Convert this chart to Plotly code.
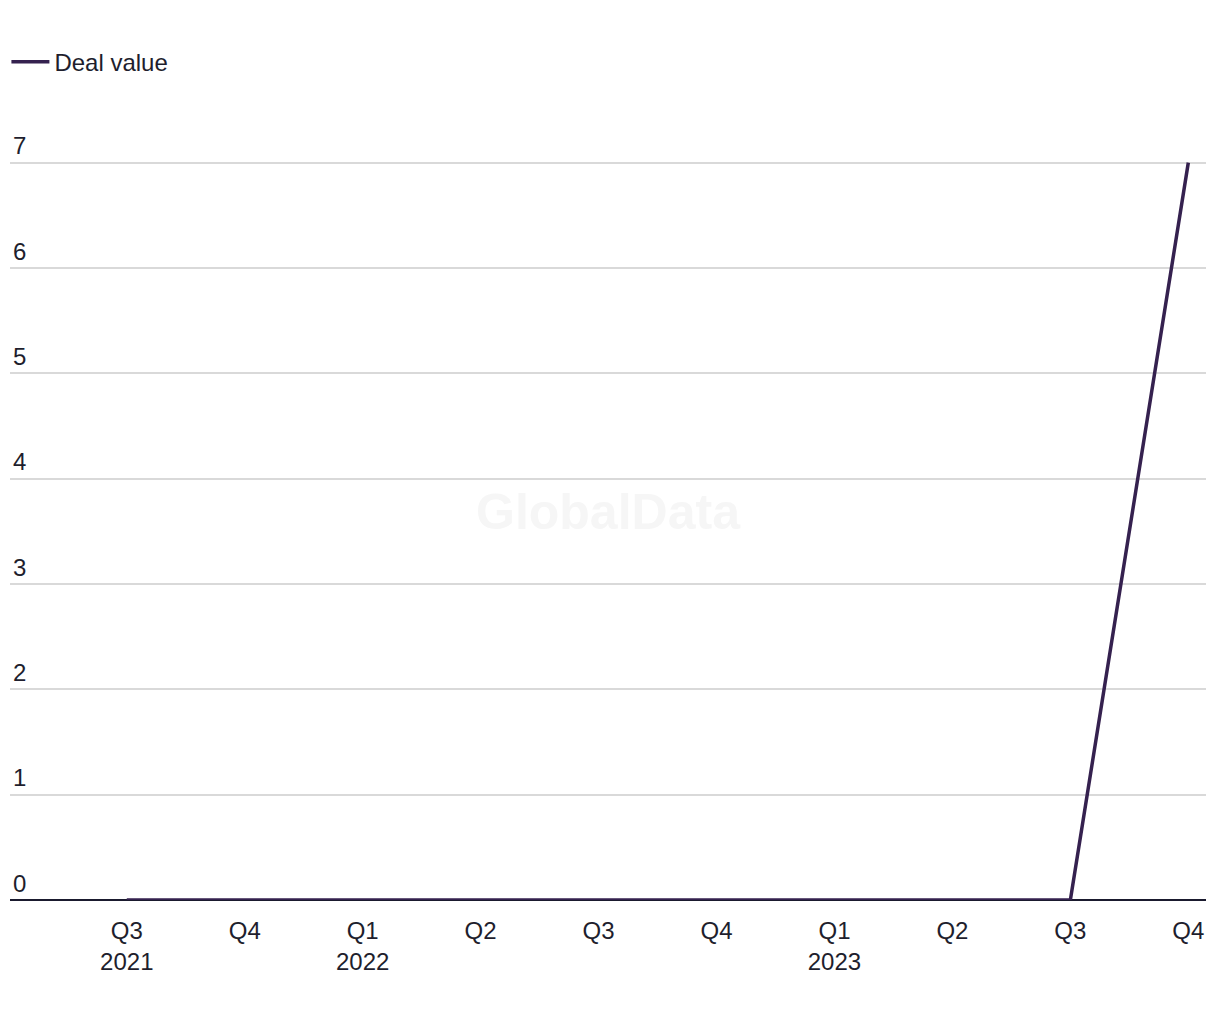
import plotly.graph_objects as go

quarters = ["Q3<br>2021", "Q4", "Q1<br>2022", "Q2", "Q3", "Q4", "Q1<br>2023", "Q2", "Q3", "Q4"]
deal_value = [0, 0, 0, 0, 0, 0, 0, 0, 0, 7]
y_ticks = [0, 1, 2, 3, 4, 5, 6, 7]

x_idx = list(range(len(quarters)))

fig = go.Figure()
fig.add_trace(go.Scatter(
    x=x_idx, y=deal_value, mode="lines", name="Deal value",
    line=dict(color="#35214f", width=3.5),
))

font_family = "Liberation Sans, Arial, sans-serif"
fig.update_layout(
    width=1220, height=1020,
    margin=dict(l=10, r=14, t=131, b=120),
    paper_bgcolor="white", plot_bgcolor="white",
    font=dict(family=font_family, size=24, color="#1e1e2d"),
    showlegend=True,
    legend=dict(
        orientation="h", x=-0.003, xanchor="left", y=0.939, yref="container",
        yanchor="middle", font=dict(size=24, color="#1e1e2d"), itemwidth=38),
    xaxis=dict(
        range=[-0.99, 9.15], tickmode="array", tickvals=x_idx, ticktext=quarters,
        showgrid=False, zeroline=False, showline=False, ticks="",
        tickfont=dict(size=24, color="#1e1e2d"), ticklabelstandoff=14,
    ),
    yaxis=dict(
        range=[0, 7.3], tickmode="array", tickvals=y_ticks,
        ticklabelposition="inside top", showgrid=True, gridcolor="#d9d9d9",
        gridwidth=1.5, zeroline=True, zerolinecolor="#1a1a2e", zerolinewidth=2,
        showline=False, ticks="", tickfont=dict(size=24, color="#1e1e2d"),
    ),
    annotations=[dict(
        text="<b>GlobalData</b>", x=0.5, y=0.5046, xref="paper", yref="paper",
        showarrow=False, font=dict(size=50, color="#f6f6f6", family=font_family),
    )],
)

fig.write_html("out.html")
